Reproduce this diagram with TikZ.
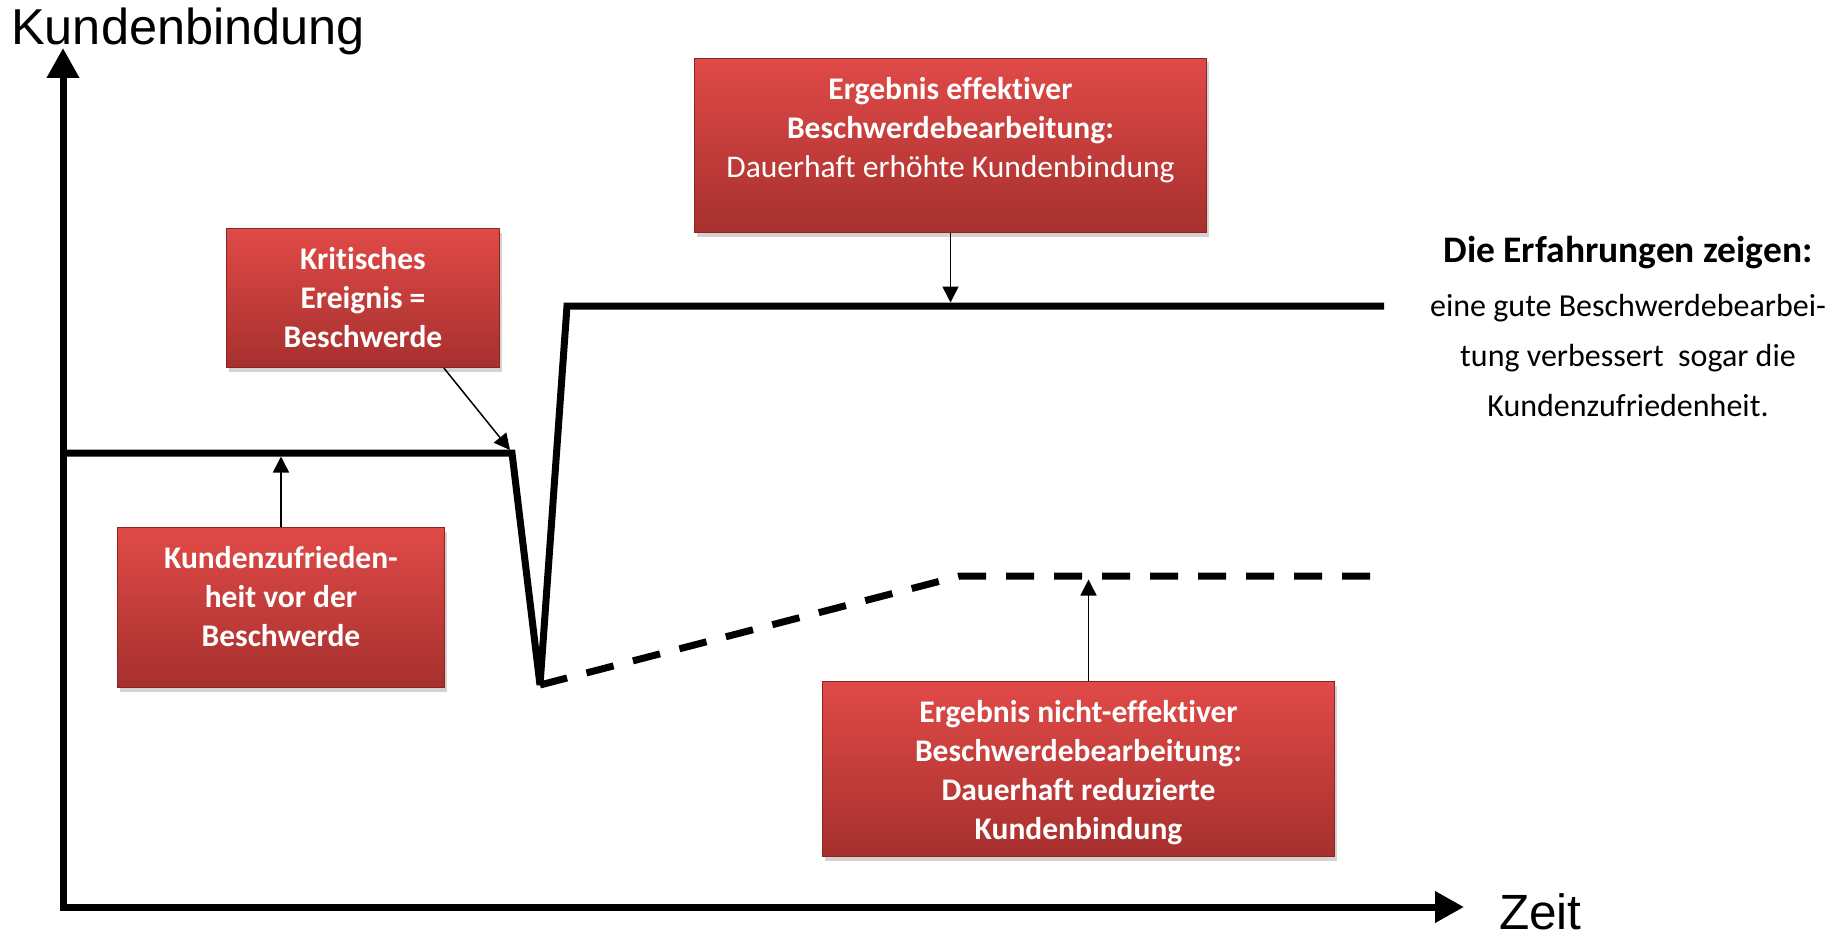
\documentclass[tikz,border=0pt]{standalone}
\usepackage{fontspec}
\setmainfont{Carlito}[Ligatures=CommonOff]
\newfontfamily\arialfont{Liberation Sans}
\usetikzlibrary{arrows.meta,calc,shadows}
\definecolor{boxtop}{RGB}{224,74,71}
\definecolor{boxbot}{RGB}{166,48,46}
\definecolor{boxedge}{RGB}{140,36,34}
\begin{document}
\begin{tikzpicture}[x=1pt,y=-1pt,
  box/.style={draw=boxedge, line width=1pt, top color=boxtop, bottom color=boxbot,
    drop shadow={shadow xshift=2pt, shadow yshift=-4pt, opacity=0.35},
    text=white, align=center, inner sep=0pt, anchor=north west,
    font=\fontsize{31.5}{39}\selectfont\bfseries},
  axis/.style={line width=7pt, line join=miter,
    {Triangle[width=31pt,length=30pt]}-{Triangle[width=30pt,length=29pt]}},
  curve/.style={line width=7pt, line join=miter, miter limit=4},
  pointer/.style={line width=1.5pt, -{Triangle[width=16pt,length=16pt]}},
  axlabel/.style={inner sep=0pt, anchor=base west}
]
\useasboundingbox (0,0) rectangle (1833,936);

% axes
\coordinate (O) at (63,907);
\coordinate (ytop) at (63,48);
\coordinate (xend) at (1464,907);
\draw[axis] (ytop) -- (O) -- (xend);
\node[axlabel, font=\arialfont\fontsize{50.5}{60}\selectfont] (ylab) at (11,45) {Kundenbindung};
\node[axlabel, font=\arialfont\fontsize{49.5}{60}\selectfont] (xlab) at (1499,929) {Zeit};

% curve points
\coordinate (s0) at (63,453);
\coordinate (knick) at (512,453);
\coordinate (dip) at (540,685);
\coordinate (rise) at (567,306);
\coordinate (hiend) at (1384,306);
\coordinate (plateau) at (960,576);
\coordinate (loend) at (1378,576);

\draw[curve] (s0) -- (knick) -- (dip) -- (rise) -- (hiend);
\draw[curve, dash pattern=on 28pt off 20pt] (dip) -- (plateau) -- (loend);

% boxes
\node[box, minimum width=512pt, minimum height=174pt] (A) at (694,58)
  {Ergebnis effektiver\\Beschwerdebearbeitung:\\\mdseries Dauerhaft erhöhte Kundenbindung\\[-3pt]\mbox{}};
\node[box, minimum width=273pt, minimum height=139pt] (B) at (226,228)
  {Kritisches\\Ereignis =\\Beschwerde};
\node[box, minimum width=327pt, minimum height=160pt] (C) at (117,527)
  {Kundenzufrieden-\\heit vor der\\Beschwerde\\[-16.5pt]\mbox{}};
\node[box, minimum width=512pt, minimum height=175pt] (D) at (822,681)
  {\mbox{}\\[-10pt]Ergebnis nicht-effektiver\\Beschwerdebearbeitung:\\Dauerhaft reduzierte\\Kundenbindung};

% pointers
\draw[pointer] (A.south) -- ($(A.south |- hiend)+(0,-3.5)$);
\draw[pointer] ($(B.south west)!0.795!(B.south east)$) -- ($(knick)+(-2,-3)$);
\draw[pointer] (C.north) -- ($(C.north |- s0)+(0,3.5)$);
\coordinate (dArr) at ($(D.north)+(10,0)$);
\draw[pointer] (dArr) -- ($(dArr |- plateau)+(0,3.5)$);

% note
\node[font=\fontsize{37.5}{45}\selectfont\bfseries, anchor=base, inner sep=0pt] (head) at (1628,262) {Die Erfahrungen zeigen:};
\node[font=\fontsize{32}{50}\selectfont, align=center, anchor=north, inner sep=0pt] (note) at (1628,294)
  {eine gute Beschwerdebearbei-\\tung verbessert\ \ sogar die\\Kundenzufriedenheit.};
\end{tikzpicture}
\end{document}
